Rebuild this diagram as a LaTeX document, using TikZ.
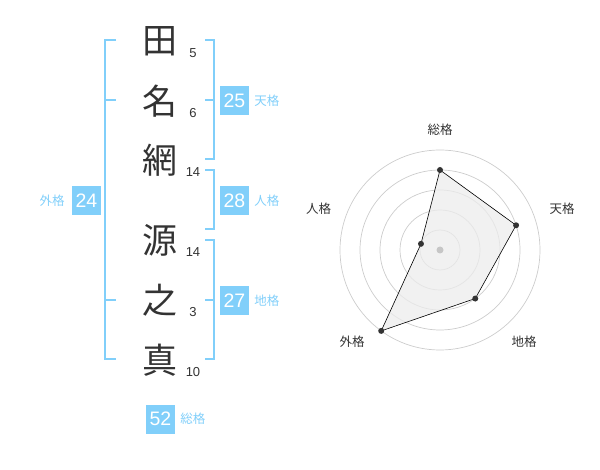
\documentclass[tikz,border=0pt]{standalone}
\usepackage{fontspec}
\setmainfont{Liberation Sans}
\newfontfamily\jpfont{Noto Sans CJK JP}
\usetikzlibrary{calc}
\definecolor{kakublue}{HTML}{81CFFA}
\definecolor{ink}{HTML}{333333}
\def\ring{20}
\tikzset{bracket/.style={kakublue, line width=2pt}}
\tikzset{kanji/.style={ink, inner sep=0pt, font=\jpfont\fontsize{35}{35}\selectfont}}
\tikzset{strokes/.style={ink, inner sep=0pt, font=\fontsize{13}{13}\selectfont}}
\tikzset{score/.style={fill=kakublue, text=white, inner sep=0pt, minimum size=29pt, font=\fontsize{19.5}{19.5}\selectfont}}
\tikzset{kaku/.style={kakublue, inner sep=0pt, font=\jpfont\fontsize{12.5}{12.5}\selectfont}}
\tikzset{axlabel/.style={ink, inner sep=0pt, font=\jpfont\fontsize{12.5}{12.5}\selectfont}}
\tikzset{dot/.style={circle, fill=ink, inner sep=0pt, minimum size=6pt}}

\begin{document}
\begin{tikzpicture}[x=1pt, y=-1pt]
  \useasboundingbox (0,0) rectangle (600,470);
  % Name
  \foreach \k/\y/\n [count=\i] in {田/41/5, 名/101/6, 網/160/14, 源/240/14, 之/300/3, 真/360/10} {
    \node[kanji] (c\i) at (160,\y) {\k};
    \node[strokes] (s\i) at (193,\y+12.5) {\n};
  }

  %Brackets
  \draw[bracket] (116,40) -- (105,40) -- (105,359) -- (116,359);
  \draw[bracket] (105,100) -- (116,100);
  \draw[bracket] (105,300) -- (116,300);
  \draw[bracket] (205,40) -- (214,40) -- (214,159) -- (205,159);
  \draw[bracket] (205,100) -- (214,100);
  \draw[bracket] (205,170) -- (214,170) -- (214,229) -- (205,229);
  \draw[bracket] (205,240) -- (214,240) -- (214,359) -- (205,359);
  \draw[bracket] (205,300) -- (214,300);

  %Scores
  \node[score] (ten) at (234.5,100.5) {25};
  \node[kaku, right=5pt] (tenL) at (ten.east) {天格};
  \node[score] (jin) at (234.5,200.5) {28};
  \node[kaku, right=5pt] (jinL) at (jin.east) {人格};
  \node[score] (chi) at (234.5,300.5) {27};
  \node[kaku, right=5pt] (chiL) at (chi.east) {地格};
  \node[score] (gai) at (86.5,200.5) {24};
  \node[kaku, left=7pt] (gaiL) at (gai.west) {外格};
  \node[score] (sou) at (160.5,419) {52};
  \node[kaku, right=5pt] (souL) at (sou.east) {総格};

  % Radar
  \begin{scope}[shift={(440,250)}]
    \foreach \r in {1,...,5}
      \draw[gray!40, line width=0.7pt] (0,0) circle (\r*\ring);
    \coordinate (pSou) at (-90:4*\ring);
    \coordinate (pTen) at (-18:4*\ring);
    \coordinate (pChi) at (54:3*\ring);
    \coordinate (pGai) at (126:5*\ring);
    \coordinate (pJin) at (198:1*\ring);
    \draw[fill=gray!15, fill opacity=0.75, line width=0.6pt] (pSou) -- (pTen) -- (pChi) -- (pGai) -- (pJin) -- cycle;
    \fill[gray!45] (0,0) circle (3.5);
    \foreach \p in {pSou,pTen,pChi,pGai,pJin}
      \node[dot] at (\p) {};
  \end{scope}
  \node[axlabel] (aSou) at (440,130) {総格};
  \node[axlabel] (aTen) at (562,209) {天格};
  \node[axlabel] (aChi) at (524,342) {地格};
  \node[axlabel] (aGai) at (352,342) {外格};
  \node[axlabel] (aJin) at (318.5,209) {人格};
\end{tikzpicture}
\end{document}
